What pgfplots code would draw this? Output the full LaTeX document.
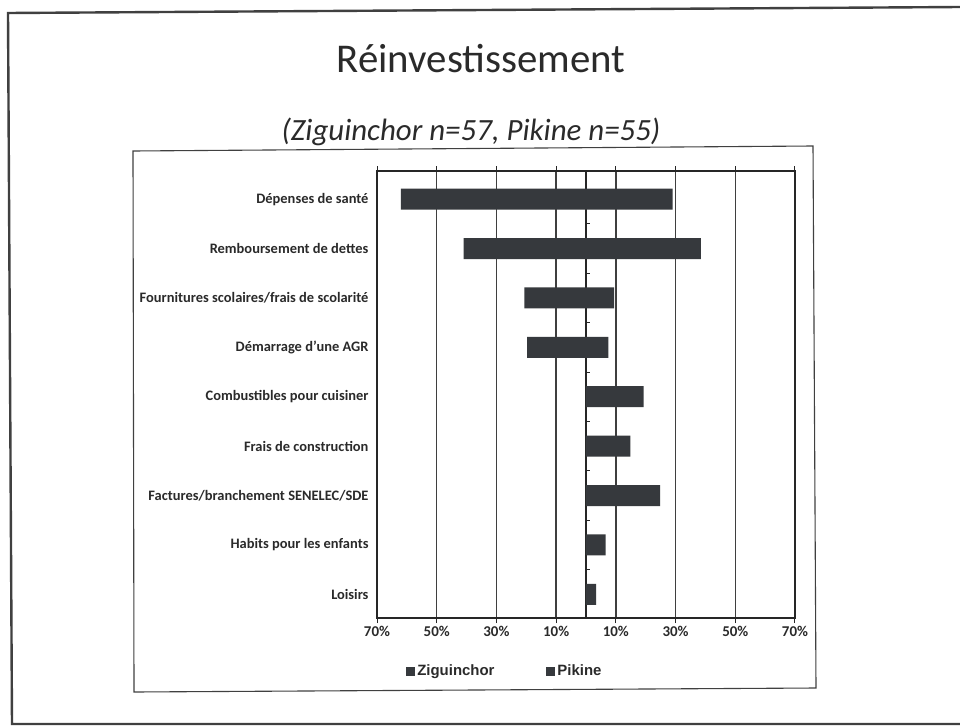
\documentclass[border=0pt]{standalone}
\usepackage{fontspec}
\setmainfont{Carlito}
\newfontfamily\legfont{Liberation Sans}
\usepackage{pgfplots}
\pgfplotsset{compat=1.18}
\definecolor{bardark}{HTML}{36393D}
\definecolor{gridc}{HTML}{3F3F3F}
\definecolor{txt}{HTML}{2A2A2A}
\begin{document}
\begin{tikzpicture}
\useasboundingbox (0bp,0bp) rectangle (960bp,-727bp);
\fill[white] (0bp,0bp) rectangle (960bp,-727bp);
% slide frame
\draw[line width=2.4bp, black!75] (960bp,-7bp) -- (8bp,-13bp) -- (12bp,-724bp) -- (960bp,-724bp);
% chart frame
\draw[line width=1.1bp, black!75] (133bp,-151bp) -- (813bp,-146bp) -- (816bp,-688bp) -- (134bp,-692bp) -- cycle;
% titles
\node[anchor=base, text=txt, font=\fontsize{41}{48}\selectfont] at (481bp,-72bp) {Réinvestissement};
\node[anchor=base, text=txt, font=\fontsize{31}{36}\selectfont\itshape] at (471bp,-140bp) {(Ziguinchor n=57, Pikine n=55)};
\begin{axis}[
  at={(377bp,-171bp)}, anchor=north west,
  scale only axis, width=418bp, height=447bp,
  xmin=-70, xmax=70, ymin=-0.57, ymax=8.48, y dir=reverse,
  xbar, bar width=21bp, bar shift=0pt,
  xtick={-70,-50,-30,-10,10,30,50,70},
  xticklabels={70\%,50\%,30\%,10\%,10\%,30\%,50\%,70\%},
  xmajorgrids, grid style={gridc, line width=1.4bp},
  extra x ticks={0}, extra x tick labels={},
  extra x tick style={grid style={black!85, line width=1.2bp}, major tick length=0pt},
  ytick={0,...,8},
  yticklabels={Dépenses de santé, Remboursement de dettes, Fournitures scolaires/frais de scolarité, Démarrage d'une AGR, Combustibles pour cuisiner, Frais de construction, Factures/branchement SENELEC/SDE, Habits pour les enfants, Loisirs},
  ytick style={draw=none},
  xtick style={black!85, line width=1bp},
  tick align=outside, major tick length=5bp,
  axis line style={black!85, line width=1.3bp},
  yticklabel style={font=\bfseries\fontsize{14.5}{16}\selectfont, text=txt},
  xticklabel style={font=\bfseries\fontsize{15}{17}\selectfont, text=txt},
  legend style={at={(0.306,-0.1186)}, anchor=center, draw=none, fill=none,
    legend columns=2, font=\legfont\bfseries\fontsize{15}{17}\selectfont, text=txt,
    /tikz/every even column/.append style={column sep=50bp}},
  legend image code/.code={\fill[bardark] (0bp,-4.5bp) rectangle (9bp,4.5bp);},
]
\addplot[fill=bardark, draw=none] coordinates {(-62,0) (-41,1) (-20.6,2) (-19.7,3) (0,4) (0,5) (0,6) (0,7) (0,8)};
\addplot[fill=bardark, draw=none] coordinates {(29,0) (38.5,1) (9.4,2) (7.5,3) (19.3,4) (14.9,5) (24.8,6) (6.6,7) (3.4,8)};
\legend{Ziguinchor, Pikine}
\pgfplotsinvokeforeach{0.5,1.5,2.5,3.5,4.5,5.5,6.5,7.5}{
  \draw[black!85, line width=1bp] (axis cs:0,#1) -- ++(4bp,0bp);
}
\end{axis}
\end{tikzpicture}
\end{document}
